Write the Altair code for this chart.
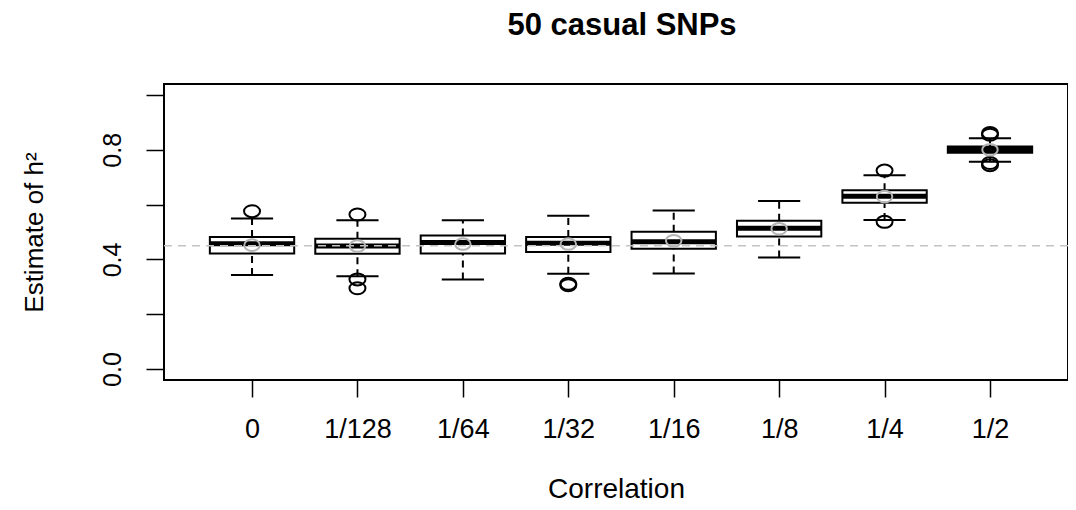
import altair as alt
import pandas as pd

# ---- data ----
categories = ["0", "1/128", "1/64", "1/32", "1/16", "1/8", "1/4", "1/2"]
whisker_lo = [0.343, 0.339, 0.327, 0.348, 0.349, 0.407, 0.544, 0.756]
q1         = [0.422, 0.421, 0.422, 0.427, 0.439, 0.484, 0.607, 0.789]
median     = [0.457, 0.449, 0.462, 0.459, 0.464, 0.514, 0.630, 0.801]
q3         = [0.482, 0.475, 0.487, 0.482, 0.501, 0.541, 0.652, 0.812]
whisker_hi = [0.549, 0.543, 0.543, 0.559, 0.578, 0.613, 0.707, 0.842]
means      = [0.452, 0.449, 0.456, 0.456, 0.468, 0.512, 0.629, 0.800]
outlier_cat = ["0", "1/128", "1/128", "1/128", "1/32", "1/32",
               "1/4", "1/4", "1/2", "1/2", "1/2", "1/2"]
outlier_val = [0.576, 0.564, 0.327, 0.295, 0.311, 0.306,
               0.724, 0.537, 0.861, 0.855, 0.752, 0.744]
true_h2 = 0.45

FONT = "Liberation Sans"
BOXWEX = 0.8

pos = list(range(1, len(categories) + 1))
box = pd.DataFrame({
    "cat": categories, "pos": pos,
    "left": [p - BOXWEX / 2 for p in pos], "right": [p + BOXWEX / 2 for p in pos],
    "sl": [p - BOXWEX / 4 for p in pos], "sr": [p + BOXWEX / 4 for p in pos],
    "lo": whisker_lo, "q1": q1, "median": median, "q3": q3, "hi": whisker_hi,
    "mean": means,
})
out = pd.DataFrame({"cat": outlier_cat, "value": outlier_val})
out["pos"] = out["cat"].map({c: i + 1 for i, c in enumerate(categories)})
ref = pd.DataFrame({"h2": [true_h2]})

label_array = "[" + ",".join("'%s'" % c for c in categories) + "]"

x_scale = alt.Scale(domain=[0.165, 8.74], nice=False, zero=False)
y_scale = alt.Scale(domain=[-0.04, 1.04], nice=False, zero=False)

x_axis = alt.Axis(
    values=pos, labelExpr=label_array + "[datum.value - 1]",
    title="Correlation", grid=False, domain=False,
    tickSize=17, tickWidth=1.5, tickColor="black",
    labelFont=FONT, labelFontSize=27, labelColor="black",
    labelBaseline="alphabetic", labelPadding=40, labelFlush=False, labelOverlap=False,
    titleFont=FONT, titleFontSize=28, titleFontWeight="normal", titleColor="black",
    titleBaseline="alphabetic", titleY=117,
)
y_axis = alt.Axis(
    values=[0, 0.2, 0.4, 0.6, 0.8, 1.0],
    labelExpr="round(datum.value*10) % 4 == 0 ? format(datum.value, '.1f') : ''",
    title="Estimate of h²", grid=False, domain=False,
    tickSize=18, tickWidth=1.5, tickColor="black",
    labelFont=FONT, labelFontSize=25, labelColor="black",
    labelAngle=270, labelAlign="center", labelBaseline="alphabetic", labelPadding=26,
    labelOverlap=False, labelFlush=False,
    titleFont=FONT, titleFontSize=26, titleFontWeight="normal", titleColor="black",
    titleAngle=270, titleAlign="center", titleBaseline="alphabetic", titleX=-122,
)


def X(field):
    return alt.X(field, type="quantitative", scale=x_scale, axis=x_axis)


def Y(field):
    return alt.Y(field, type="quantitative", scale=y_scale, axis=y_axis)


ellipse = "M-1,0A1,0.75,0,1,1,1,0A1,0.75,0,1,1,-1,0Z"

base = alt.Chart(box)

whisk_low = base.mark_rule(color="black", strokeWidth=2, strokeDash=[7, 5]).encode(
    x=X("pos"), y=Y("lo"), y2="q1")
whisk_high = base.mark_rule(color="black", strokeWidth=2, strokeDash=[7, 5]).encode(
    x=X("pos"), y=Y("q3"), y2="hi")
staple_low = base.mark_rule(color="black", strokeWidth=2).encode(
    x=X("sl"), x2="sr", y=Y("lo"))
staple_high = base.mark_rule(color="black", strokeWidth=2).encode(
    x=X("sl"), x2="sr", y=Y("hi"))
boxes = base.mark_rect(fill="white", stroke="black", strokeWidth=2).encode(
    x=X("left"), x2="right", y=Y("q1"), y2="q3")
medians = base.mark_rule(color="black", strokeWidth=5).encode(
    x=X("left"), x2="right", y=Y("median"))
outliers = alt.Chart(out).mark_point(
    shape=ellipse, size=256, filled=False, stroke="black", strokeWidth=2, opacity=1
).encode(x=X("pos"), y=Y("value"))
ref_line = alt.Chart(ref).mark_rule(
    color="#c4c4c4", strokeWidth=1.5, strokeDash=[8, 6]
).encode(y=Y("h2"))
mean_pts = base.mark_point(
    shape=ellipse, size=240, filled=False, stroke="#b4b4b4", strokeWidth=2, opacity=1
).encode(x=X("pos"), y=Y("mean"))

chart = alt.layer(
    whisk_low, whisk_high, staple_low, staple_high, boxes, medians,
    outliers, ref_line, mean_pts,
).properties(
    width=904, height=296,
    background="white",
    autosize=alt.AutoSizeParams(type="none"),
    padding={"left": 156, "top": 76, "right": 0, "bottom": 122},
    title=alt.TitleParams(
        "50 casual SNPs", font=FONT, fontSize=31, fontWeight="bold", color="black",
        anchor="middle", frame="group", baseline="alphabetic", offset=18, dx=6,
    ),
).configure_view(
    stroke="black", strokeWidth=2
)

chart.save("out.html", embed_options={"renderer": "svg", "actions": False})
